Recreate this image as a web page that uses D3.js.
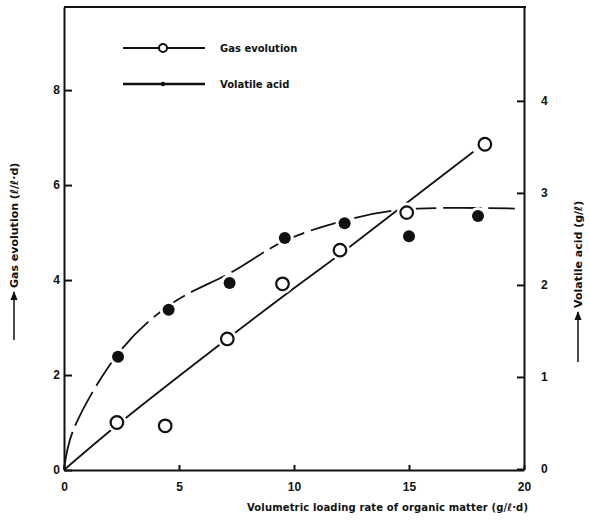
<!DOCTYPE html>
<html>
<head>
<meta charset="utf-8">
<script src="https://cdn.jsdelivr.net/npm/d3@7"></script>
<style>
  body { margin: 0; background: #fff; }
  svg { display: block; font-family: 'DejaVu Sans', sans-serif; font-weight: bold; }
</style>
</head>
<body>
<svg></svg>
<script>
// measured points
let loadRate = [2.3, 4.4, 7.1, 9.5, 12.0, 14.9, 18.3]
let gasEvolution = [1.0, 0.93, 2.76, 3.92, 4.63, 5.42, 6.86]

let acidRate = [2.35, 4.55, 7.2, 9.6, 12.2, 15.0, 18.0]
let volatileAcid = [1.22, 1.73, 2.02, 2.51, 2.67, 2.53, 2.75]

// hand drawn fit curves (knots)
let gasFitX = [0, 2.5, 7.2, 10.2, 12.1, 14.7, 17.8]
let gasFitY = [0, 1.02, 2.8, 3.9, 4.58, 5.55, 6.7]
let acidFitX = [0, 0.4, 2.5, 4.7, 7.3, 9.6, 12.2, 14.8, 19.6]
let acidFitY = [0, 0.42, 1.3, 1.8, 2.14, 2.48, 2.7, 2.82, 2.83]

let xTicks = [0, 5, 10, 15, 20]
let leftTicks = [0, 2, 4, 6, 8]
let rightTicks = [0, 1, 2, 3, 4]

let width = 589
let height = 524

let svg = d3.select('svg')
            .attr('width', width)
            .attr('height', height)

let xScale = d3.scaleLinear().domain([0, 20]).range([64, 524])
let yLeft = d3.scaleLinear().domain([0, 9.75]).range([470, 7])
let yRight = d3.scaleLinear().domain([0, 5.02]).range([469, 7])

svg.append('defs').append('marker')
   .attr('id', 'arrow')
   .attr('viewBox', '0 0 10 10')
   .attr('refX', 9).attr('refY', 5)
   .attr('markerWidth', 6).attr('markerHeight', 6)
   .attr('orient', 'auto')
   .append('path').attr('d', 'M0,1L10,5L0,9Z').attr('fill', '#111')

// frame top
svg.append('line')
   .attr('x1', xScale(0)).attr('x2', xScale(20) + 2)
   .attr('y1', yLeft(9.75)).attr('y2', yLeft(9.75))
   .attr('stroke', '#111').attr('stroke-width', 2)

let xAxis = d3.axisBottom(xScale).tickValues(xTicks).tickSizeInner(-5).tickSizeOuter(0).tickPadding(12)
let leftAxis = d3.axisLeft(yLeft).tickValues(leftTicks).tickSizeInner(-8).tickSizeOuter(0).tickPadding(4)
let rightAxis = d3.axisRight(yRight).tickValues(rightTicks).tickSizeInner(-7).tickSizeOuter(0).tickPadding(17)
                  .tickFormat(d3.format('d'))

let styleAxis = (g) => {
  g.select('.domain').attr('stroke', '#111').attr('stroke-width', 2)
  g.selectAll('.tick line').attr('stroke', '#111').attr('stroke-width', 2)
  g.selectAll('.tick text').attr('fill', '#111').style('font-size', '12px').style('font-weight', 'bold')
}

svg.append('g').attr('transform', 'translate(0,470)').call(xAxis).call(styleAxis)
svg.append('g').attr('transform', 'translate(64,0)').call(leftAxis).call(styleAxis)
svg.append('g').attr('transform', 'translate(524,0)').call(rightAxis).call(styleAxis)

// fit curves
let gasLine = d3.line()
                .x((d, i) => xScale(gasFitX[i]))
                .y((d) => yLeft(d))
                .curve(d3.curveCatmullRom.alpha(0.5))
let acidLine = d3.line()
                 .x((d, i) => xScale(acidFitX[i]))
                 .y((d) => yRight(d))
                 .curve(d3.curveCatmullRom.alpha(0.5))

svg.append('path')
   .attr('d', gasLine(gasFitY))
   .attr('fill', 'none').attr('stroke', '#111').attr('stroke-width', 1.8)

svg.append('path')
   .attr('d', acidLine(acidFitY))
   .attr('fill', 'none').attr('stroke', '#111').attr('stroke-width', 1.8)
   .attr('stroke-dasharray', '38,7')

// white halos so lines break at markers
svg.selectAll('circle.halo-gas')
   .data(gasEvolution)
   .enter().append('circle')
   .attr('class', 'halo-gas')
   .attr('cx', (d, i) => xScale(loadRate[i]))
   .attr('cy', (d) => yLeft(d))
   .attr('r', 10).attr('fill', '#fff')

svg.selectAll('circle.halo-acid')
   .data(volatileAcid)
   .enter().append('circle')
   .attr('class', 'halo-acid')
   .attr('cx', (d, i) => xScale(acidRate[i]))
   .attr('cy', (d) => yRight(d))
   .attr('r', 9).attr('fill', '#fff')

svg.selectAll('circle.gas')
   .data(gasEvolution)
   .enter().append('circle')
   .attr('class', 'gas')
   .attr('cx', (d, i) => xScale(loadRate[i]))
   .attr('cy', (d) => yLeft(d))
   .attr('r', 6.3)
   .attr('fill', '#fff').attr('stroke', '#111').attr('stroke-width', 2.2)

svg.selectAll('circle.acid')
   .data(volatileAcid)
   .enter().append('circle')
   .attr('class', 'acid')
   .attr('cx', (d, i) => xScale(acidRate[i]))
   .attr('cy', (d) => yRight(d))
   .attr('r', 6)
   .attr('fill', '#111')

// legend
let legend = svg.append('g')
legend.append('line').attr('x1', 123).attr('x2', 205).attr('y1', 48).attr('y2', 48)
      .attr('stroke', '#111').attr('stroke-width', 2)
legend.append('circle').attr('cx', 163).attr('cy', 48).attr('r', 4)
      .attr('fill', '#fff').attr('stroke', '#111').attr('stroke-width', 2)
legend.append('text').attr('x', 220).attr('y', 52).text('Gas evolution')
      .style('font-size', '10px').attr('fill', '#111')
legend.append('line').attr('x1', 123).attr('x2', 205).attr('y1', 84).attr('y2', 84)
      .attr('stroke', '#111').attr('stroke-width', 2.5)
legend.append('circle').attr('cx', 163).attr('cy', 84).attr('r', 2.2).attr('fill', '#111')
legend.append('text').attr('x', 220).attr('y', 88).text('Volatile acid')
      .style('font-size', '10px').attr('fill', '#111')

// axis titles
svg.append('text')
   .attr('x', 247).attr('y', 511)
   .attr('textLength', 281)
   .style('font-size', '10px').attr('fill', '#111')
   .text('Volumetric loading rate of organic matter (g/ℓ·d)')

svg.append('line')
   .attr('x1', 14).attr('x2', 14).attr('y1', 340).attr('y2', 292)
   .attr('stroke', '#111').attr('stroke-width', 1.5)
   .attr('marker-end', 'url(#arrow)')
svg.append('text')
   .attr('transform', 'translate(18,288) rotate(-90)')
   .style('font-size', '11px').attr('fill', '#111')
   .text('Gas evolution (ℓ/ℓ·d)')

svg.append('line')
   .attr('x1', 578).attr('x2', 578).attr('y1', 362).attr('y2', 312)
   .attr('stroke', '#111').attr('stroke-width', 1.5)
   .attr('marker-end', 'url(#arrow)')
svg.append('text')
   .attr('transform', 'translate(582,308) rotate(-90)')
   .style('font-size', '11px').attr('fill', '#111')
   .text('Volatile acid (g/ℓ)')
</script>
</body>
</html>
